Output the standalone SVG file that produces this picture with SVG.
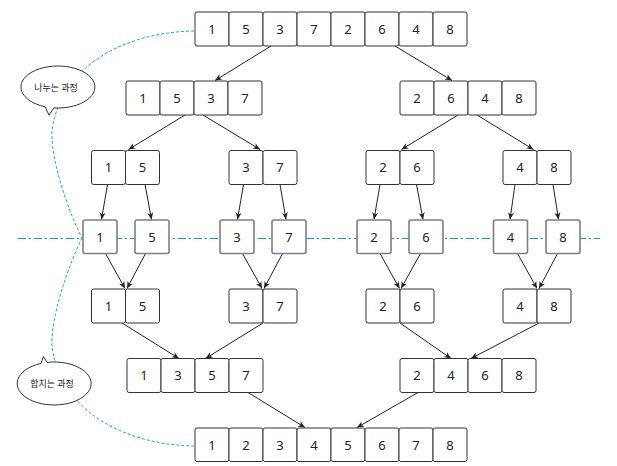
<svg xmlns="http://www.w3.org/2000/svg" width="617" height="466" viewBox="0 0 617 466">
<defs>
<marker id="ah" markerWidth="8" markerHeight="8" refX="7" refY="4" orient="auto" markerUnits="userSpaceOnUse">
<path d="M0,1 L7,4 L0,7 L2,4 Z" fill="#222"/>
</marker>
<style>
.b{fill:#fff;stroke:#333;stroke-width:1}
.s{fill:#fff;stroke:#7f7f7f;stroke-width:1.6}
.t{font-family:"Noto Sans","Noto Sans CJK KR",sans-serif;font-size:13px;fill:#222;text-anchor:middle}
.k{font-family:"Noto Sans CJK KR","Noto Sans",sans-serif;font-size:9px;fill:#222;text-anchor:middle}
.c line{stroke:#222;stroke-width:1;marker-end:url(#ah)}
.g{fill:none;stroke:#1aa8e0;stroke-width:1;stroke-dasharray:3,2}
.bub{fill:#fff;stroke:#333;stroke-width:1}
</style>
</defs>
<rect width="617" height="466" fill="#fff"/>
<line x1="18" y1="238.5" x2="600" y2="238.5" stroke="#00a3e0" stroke-width="1" stroke-dasharray="8,3,2,3"/>
<g id="guides">
<path class="g" d="M194,31 C130,32 62,62 52,130 C50,160 70,215 82,238"/>
<path class="g" d="M82,238 C70,262 50,317 52,347 C62,415 130,445 194,446"/>
</g>
<g id="bubble-divide">
<path class="bub" d="M45,106.7 A37,21 0 1 1 54,107.9 L49,115 Z"/>
<text class="k" x="56" y="91">나누는 과정</text>
</g>
<g id="bubble-merge">
<path class="bub" d="M47,362.4 A37,21.5 0 1 1 41,363.4 L43.5,356.5 Z"/>
<text class="k" x="52" y="387">합치는 과정</text>
</g>
<g class="c" id="connectors">
<line x1="271" y1="46" x2="215" y2="80.5"/>
<line x1="395" y1="46" x2="452" y2="80.5"/>
<line x1="185" y1="115" x2="128.5" y2="149.5"/>
<line x1="203" y1="115" x2="260" y2="149.5"/>
<line x1="458" y1="115" x2="401.5" y2="149.5"/>
<line x1="477" y1="115" x2="533.5" y2="149.5"/>
<line x1="107.5" y1="184.5" x2="101.5" y2="219.5"/>
<line x1="145" y1="184.5" x2="151.5" y2="219.5"/>
<line x1="243.5" y1="184.5" x2="237.5" y2="219.5"/>
<line x1="280" y1="184.5" x2="286" y2="219.5"/>
<line x1="380" y1="184.5" x2="374" y2="219.5"/>
<line x1="416.5" y1="184.5" x2="423" y2="219.5"/>
<line x1="515" y1="184.5" x2="510" y2="219.5"/>
<line x1="553" y1="184.5" x2="558.5" y2="219.5"/>
<line x1="105.5" y1="253.5" x2="125" y2="288.5"/>
<line x1="145.5" y1="253.5" x2="127" y2="288.5"/>
<line x1="242.5" y1="253.5" x2="262" y2="288.5"/>
<line x1="282.5" y1="253.5" x2="264" y2="288.5"/>
<line x1="380" y1="253.5" x2="399.5" y2="288.5"/>
<line x1="420.5" y1="253.5" x2="401" y2="288.5"/>
<line x1="517.5" y1="253.5" x2="537" y2="288.5"/>
<line x1="557.5" y1="253.5" x2="539" y2="288.5"/>
<line x1="122" y1="323" x2="179" y2="358.5"/>
<line x1="263" y1="323" x2="205.5" y2="358.5"/>
<line x1="400" y1="323" x2="451" y2="358.5"/>
<line x1="539" y1="323" x2="471" y2="358.5"/>
<line x1="248" y1="392.5" x2="305" y2="427.5"/>
<line x1="418" y1="392.5" x2="357" y2="427.5"/>
</g>
<g id="row1">
<rect class="b" x="195" y="12" width="34" height="34" rx="2"/><text class="t" x="212" y="33.5">1</text>
<rect class="b" x="229" y="12" width="34" height="34" rx="2"/><text class="t" x="246" y="33.5">5</text>
<rect class="b" x="263" y="12" width="34" height="34" rx="2"/><text class="t" x="280" y="33.5">3</text>
<rect class="b" x="297" y="12" width="34" height="34" rx="2"/><text class="t" x="314" y="33.5">7</text>
<rect class="b" x="331" y="12" width="34" height="34" rx="2"/><text class="t" x="348" y="33.5">2</text>
<rect class="b" x="365" y="12" width="34" height="34" rx="2"/><text class="t" x="382" y="33.5">6</text>
<rect class="b" x="399" y="12" width="34" height="34" rx="2"/><text class="t" x="416" y="33.5">4</text>
<rect class="b" x="433" y="12" width="34" height="34" rx="2"/><text class="t" x="450" y="33.5">8</text>
</g>
<g id="row2-left">
<rect class="b" x="126" y="81" width="34" height="34" rx="2"/><text class="t" x="143" y="102.5">1</text>
<rect class="b" x="160" y="81" width="34" height="34" rx="2"/><text class="t" x="177" y="102.5">5</text>
<rect class="b" x="194" y="81" width="34" height="34" rx="2"/><text class="t" x="211" y="102.5">3</text>
<rect class="b" x="228" y="81" width="34" height="34" rx="2"/><text class="t" x="245" y="102.5">7</text>
</g>
<g id="row2-right">
<rect class="b" x="400" y="81" width="34" height="34" rx="2"/><text class="t" x="417" y="102.5">2</text>
<rect class="b" x="434" y="81" width="34" height="34" rx="2"/><text class="t" x="451" y="102.5">6</text>
<rect class="b" x="468" y="81" width="34" height="34" rx="2"/><text class="t" x="485" y="102.5">4</text>
<rect class="b" x="502" y="81" width="34" height="34" rx="2"/><text class="t" x="519" y="102.5">8</text>
</g>
<g id="row3-a">
<rect class="b" x="91.5" y="150.5" width="34" height="34" rx="2"/><text class="t" x="108.5" y="172">1</text>
<rect class="b" x="125.5" y="150.5" width="34" height="34" rx="2"/><text class="t" x="142.5" y="172">5</text>
</g>
<g id="row3-b">
<rect class="b" x="229" y="150.5" width="34" height="34" rx="2"/><text class="t" x="246" y="172">3</text>
<rect class="b" x="263" y="150.5" width="34" height="34" rx="2"/><text class="t" x="280" y="172">7</text>
</g>
<g id="row3-c">
<rect class="b" x="366" y="150.5" width="34" height="34" rx="2"/><text class="t" x="383" y="172">2</text>
<rect class="b" x="400" y="150.5" width="34" height="34" rx="2"/><text class="t" x="417" y="172">6</text>
</g>
<g id="row3-d">
<rect class="b" x="503" y="150.5" width="34" height="34" rx="2"/><text class="t" x="520" y="172">4</text>
<rect class="b" x="537" y="150.5" width="34" height="34" rx="2"/><text class="t" x="554" y="172">8</text>
</g>
<g id="row4">
<rect class="s" x="83" y="220" width="34" height="33.5" rx="2"/><text class="t" x="100" y="241.5">1</text>
<rect class="s" x="135" y="220" width="34" height="33.5" rx="2"/><text class="t" x="152" y="241.5">5</text>
<rect class="s" x="220" y="220" width="34" height="33.5" rx="2"/><text class="t" x="237" y="241.5">3</text>
<rect class="s" x="272" y="220" width="34" height="33.5" rx="2"/><text class="t" x="289" y="241.5">7</text>
<rect class="s" x="357" y="220" width="34" height="33.5" rx="2"/><text class="t" x="374" y="241.5">2</text>
<rect class="s" x="409" y="220" width="34" height="33.5" rx="2"/><text class="t" x="426" y="241.5">6</text>
<rect class="s" x="493.5" y="220" width="34" height="33.5" rx="2"/><text class="t" x="510.5" y="241.5">4</text>
<rect class="s" x="546" y="220" width="34" height="33.5" rx="2"/><text class="t" x="563" y="241.5">8</text>
</g>
<g id="row5-a">
<rect class="b" x="91.5" y="289" width="34" height="34" rx="2"/><text class="t" x="108.5" y="310.5">1</text>
<rect class="b" x="125.5" y="289" width="34" height="34" rx="2"/><text class="t" x="142.5" y="310.5">5</text>
</g>
<g id="row5-b">
<rect class="b" x="229" y="289" width="34" height="34" rx="2"/><text class="t" x="246" y="310.5">3</text>
<rect class="b" x="263" y="289" width="34" height="34" rx="2"/><text class="t" x="280" y="310.5">7</text>
</g>
<g id="row5-c">
<rect class="b" x="366" y="289" width="34" height="34" rx="2"/><text class="t" x="383" y="310.5">2</text>
<rect class="b" x="400" y="289" width="34" height="34" rx="2"/><text class="t" x="417" y="310.5">6</text>
</g>
<g id="row5-d">
<rect class="b" x="503" y="289" width="34" height="34" rx="2"/><text class="t" x="520" y="310.5">4</text>
<rect class="b" x="537" y="289" width="34" height="34" rx="2"/><text class="t" x="554" y="310.5">8</text>
</g>
<g id="row6-left">
<rect class="b" x="127" y="358.5" width="34" height="34" rx="2"/><text class="t" x="144" y="380">1</text>
<rect class="b" x="161" y="358.5" width="34" height="34" rx="2"/><text class="t" x="178" y="380">3</text>
<rect class="b" x="195" y="358.5" width="34" height="34" rx="2"/><text class="t" x="212" y="380">5</text>
<rect class="b" x="229" y="358.5" width="34" height="34" rx="2"/><text class="t" x="246" y="380">7</text>
</g>
<g id="row6-right">
<rect class="b" x="400" y="358.5" width="34" height="34" rx="2"/><text class="t" x="417" y="380">2</text>
<rect class="b" x="434" y="358.5" width="34" height="34" rx="2"/><text class="t" x="451" y="380">4</text>
<rect class="b" x="468" y="358.5" width="34" height="34" rx="2"/><text class="t" x="485" y="380">6</text>
<rect class="b" x="502" y="358.5" width="34" height="34" rx="2"/><text class="t" x="519" y="380">8</text>
</g>
<g id="row7">
<rect class="b" x="195" y="428" width="34" height="33.5" rx="2"/><text class="t" x="212" y="449.5">1</text>
<rect class="b" x="229" y="428" width="34" height="33.5" rx="2"/><text class="t" x="246" y="449.5">2</text>
<rect class="b" x="263" y="428" width="34" height="33.5" rx="2"/><text class="t" x="280" y="449.5">3</text>
<rect class="b" x="297" y="428" width="34" height="33.5" rx="2"/><text class="t" x="314" y="449.5">4</text>
<rect class="b" x="331" y="428" width="34" height="33.5" rx="2"/><text class="t" x="348" y="449.5">5</text>
<rect class="b" x="365" y="428" width="34" height="33.5" rx="2"/><text class="t" x="382" y="449.5">6</text>
<rect class="b" x="399" y="428" width="34" height="33.5" rx="2"/><text class="t" x="416" y="449.5">7</text>
<rect class="b" x="433" y="428" width="34" height="33.5" rx="2"/><text class="t" x="450" y="449.5">8</text>
</g>
</svg>
